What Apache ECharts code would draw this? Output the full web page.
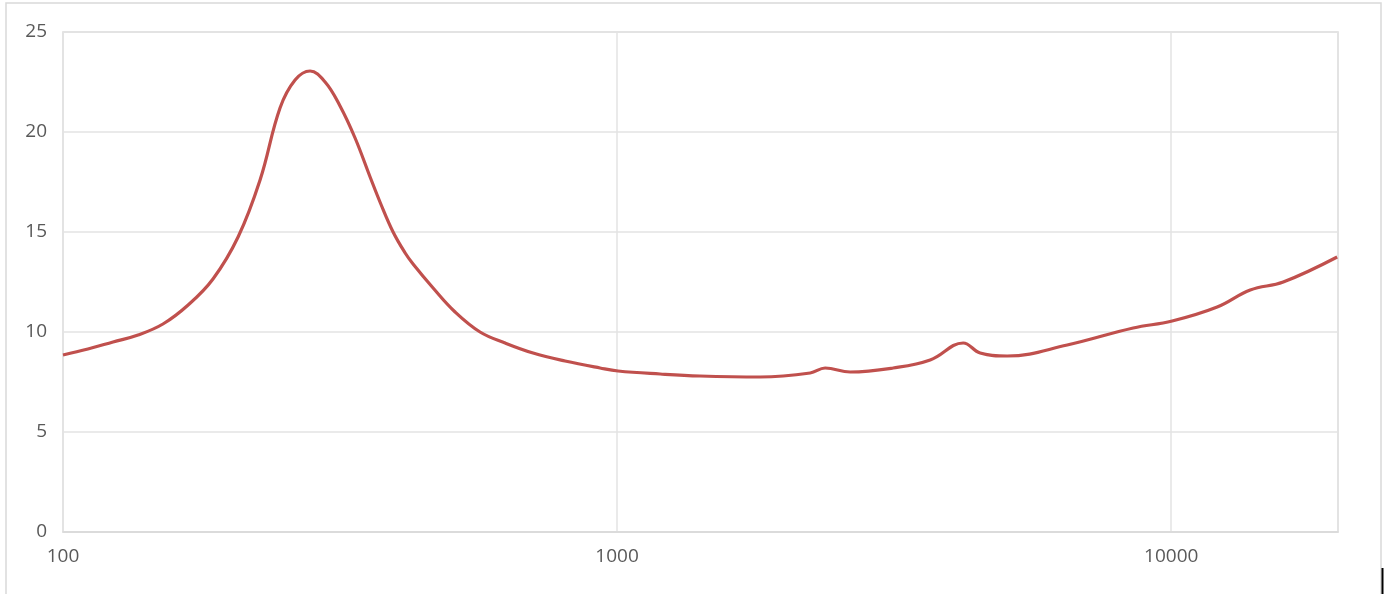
<!DOCTYPE html>
<html>
<head>
<meta charset="utf-8">
<script src="https://cdn.jsdelivr.net/npm/echarts@6/dist/echarts.min.js"></script>
<style>html,body{margin:0;padding:0;background:#fff}#c{width:1388px;height:594px}</style>
</head>
<body>
<div id="c"></div>
<script>
// Frequency (Hz) and impedance values
var freq = [100, 110.9, 123.1, 136.6, 151.5, 168.2, 186.5, 207.0, 226.8, 246.4, 262.3, 279.2, 297.2, 316.2, 336.6, 358.3, 374.6, 394.2, 414.5, 428.3, 465.5, 510.1, 565.8, 627.9, 705.3, 805.6, 931.7, 1004, 1196, 1411, 1812, 2231, 2374, 2634, 3150, 3673, 4213, 4521, 5058, 6492, 8539, 10040, 12106, 13887, 15930, 19930];
var imp  = [8.85, 9.15, 9.5, 9.85, 10.4, 11.35, 12.65, 14.75, 17.6, 21.2, 22.6, 23.05, 22.5, 21.3, 19.7, 17.75, 16.4, 15.0, 13.95, 13.4, 12.2, 11.0, 10.0, 9.45, 8.95, 8.55, 8.2, 8.05, 7.9, 7.8, 7.75, 7.95, 8.2, 8.0, 8.2, 8.6, 9.45, 8.95, 8.8, 9.35, 10.2, 10.55, 11.25, 12.1, 12.5, 13.75];
var yTicks = [0, 5, 10, 15, 20, 25];

var chart = echarts.init(document.getElementById('c'), null, {renderer: 'canvas'});
var pts = freq.map(function (f, i) { return [f, imp[i]]; });
var font = '"Open Sans", "Noto Sans", sans-serif';
chart.setOption({
  animation: false,
  backgroundColor: '#fff',
  graphic: [
    {type: 'rect', shape: {x: 6, y: 3, width: 1375, height: 600}, style: {fill: 'none', stroke: '#d9d9d9', lineWidth: 1.5}},
    {type: 'line', shape: {x1: 1382.5, y1: 568, x2: 1382.5, y2: 594}, style: {stroke: '#000', lineWidth: 2}}
  ],
  grid: {left: 63, top: 32, right: 50, bottom: 62, show: true, borderColor: '#d9d9d9', borderWidth: 1.5},
  xAxis: {
    type: 'log', logBase: 10, min: 100, max: 20000,
    axisLine: {show: true, lineStyle: {color: '#d9d9d9', width: 1.5}},
    axisTick: {show: false},
    minorTick: {show: false},
    splitLine: {show: true, lineStyle: {color: '#e3e3e3', width: 1.5}},
    axisLabel: {color: '#595959', fontFamily: font, fontSize: 19, margin: 15, showMaxLabel: false,
      formatter: function (v) { return String(Math.round(v)); }}
  },
  yAxis: {
    type: 'value', min: yTicks[0], max: yTicks[yTicks.length - 1], interval: 5,
    axisLine: {show: false},
    axisTick: {show: false},
    splitLine: {show: true, lineStyle: {color: '#e3e3e3', width: 1.5}},
    axisLabel: {color: '#595959', fontFamily: font, fontSize: 19, margin: 16}
  },
  series: [{
    type: 'line', data: pts, smooth: 0.4, showSymbol: false,
    lineStyle: {color: '#c0504d', width: 3.2},
    itemStyle: {color: '#c0504d'}
  }]
});
</script>
</body>
</html>
